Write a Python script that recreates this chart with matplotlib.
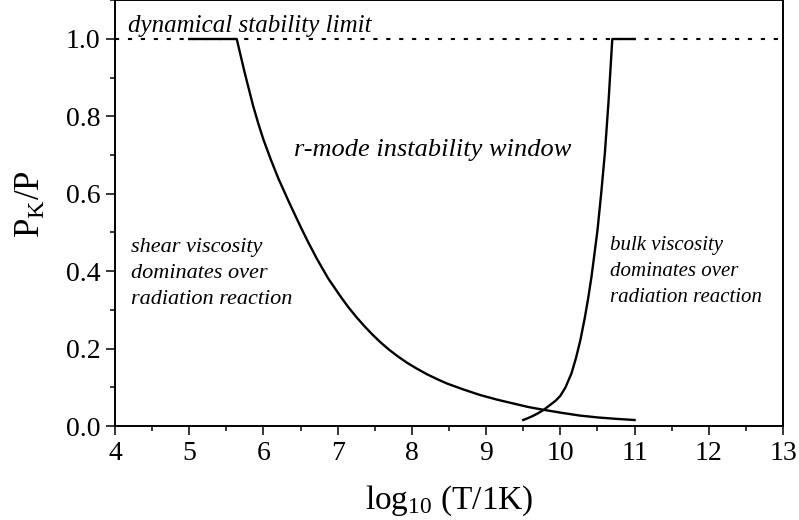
import numpy as np
import matplotlib
matplotlib.use('Agg')
import matplotlib.pyplot as plt
from matplotlib.ticker import MultipleLocator

plt.rcParams['font.family'] = ['Liberation Serif', 'DejaVu Serif']
plt.rcParams['mathtext.fontset'] = 'custom'
plt.rcParams['mathtext.rm'] = 'Liberation Serif'
plt.rcParams['mathtext.it'] = 'Liberation Serif:italic'

# Shear viscosity boundary.
shear_x = [5.0, 5.64, 5.75, 5.86, 5.93, 6.0, 6.1, 6.2, 6.35, 6.5, 6.6, 6.72,
           6.87, 7.03, 7.14, 7.25, 7.36, 7.48, 7.59, 7.7, 7.81, 7.93, 8.06,
           8.2, 8.33, 8.47, 8.7, 8.92, 9.15, 9.37, 9.57, 9.77, 10.02, 10.26,
           10.51, 10.75, 11.0]
shear_y = [1.0, 1.0, 0.911, 0.828, 0.782, 0.740, 0.688, 0.640, 0.576, 0.515,
           0.476, 0.432, 0.382, 0.337, 0.308, 0.282, 0.258, 0.234, 0.214,
           0.196, 0.180, 0.164, 0.149, 0.134, 0.122, 0.110, 0.094, 0.080,
           0.068, 0.058, 0.049, 0.042, 0.034, 0.027, 0.022, 0.0185, 0.0155]

# Bulk viscosity boundary.
bulk_x = [9.5, 9.56, 9.63, 9.7, 9.77, 9.88, 9.94, 10.0, 10.07, 10.15, 10.21,
          10.27, 10.33, 10.375, 10.42, 10.46, 10.5, 10.55, 10.6, 10.65, 10.7, 11.0]
bulk_y = [0.0155, 0.020, 0.026, 0.033, 0.041, 0.057, 0.066, 0.078, 0.100,
          0.136, 0.175, 0.222, 0.280, 0.330, 0.386, 0.445, 0.505, 0.600,
          0.705, 0.840, 1.0, 1.0]

limit_y = 1.0

fig = plt.figure(figsize=(7.99, 5.2), dpi=100)
ax = fig.add_axes([115 / 799, 94 / 520, 668 / 799, 425.7 / 520])

ax.axhline(limit_y, color='black', lw=1.5, dashes=(2.0, 4.2))
ax.plot(shear_x, shear_y, color='black', lw=1.7)
ax.plot(bulk_x, bulk_y, color='black', lw=1.7)

ax.set_xlim(4, 13)
ax.set_ylim(0, 1.1)
ax.xaxis.set_major_locator(MultipleLocator(1))
ax.xaxis.set_minor_locator(MultipleLocator(0.5))
ax.yaxis.set_minor_locator(MultipleLocator(0.1))
ax.set_yticks([0.0, 0.2, 0.4, 0.6, 0.8, 1.0])
ax.set_yticklabels(['0.0', '0.2', '0.4', '0.6', '0.8', '1.0'])
ax.tick_params(which='major', direction='out', length=6.5, width=1.1, labelsize=20, pad=4)
ax.tick_params(which='minor', direction='out', length=3.6, width=1.1)
for s in ax.spines.values():
    s.set_linewidth(1.4)

ax.set_xlabel(r'log$_{\mathrm{10}}$ (T/1K)', fontsize=24, labelpad=13)
ax.set_ylabel(r'P$_{\mathrm{K}}$/P', fontsize=25)
ax.yaxis.set_label_coords(-0.10, 0.52)

ax.text(4.175, 1.019, 'dynamical stability limit', style='italic', fontsize=18,
        ha='left', va='baseline')
ax.text(8.28, 0.713, 'r-mode instability window', style='italic', fontsize=19,
        ha='center', va='center')
ax.text(4.22, 0.393, 'shear viscosity\ndominates over\nradiation reaction',
        style='italic', fontsize=16, ha='left', va='center', linespacing=1.5)
ax.text(10.67, 0.40, 'bulk viscosity\ndominates over\nradiation reaction',
        style='italic', fontsize=15, ha='left', va='center', linespacing=1.5)

fig.savefig('out.png', dpi=100)
